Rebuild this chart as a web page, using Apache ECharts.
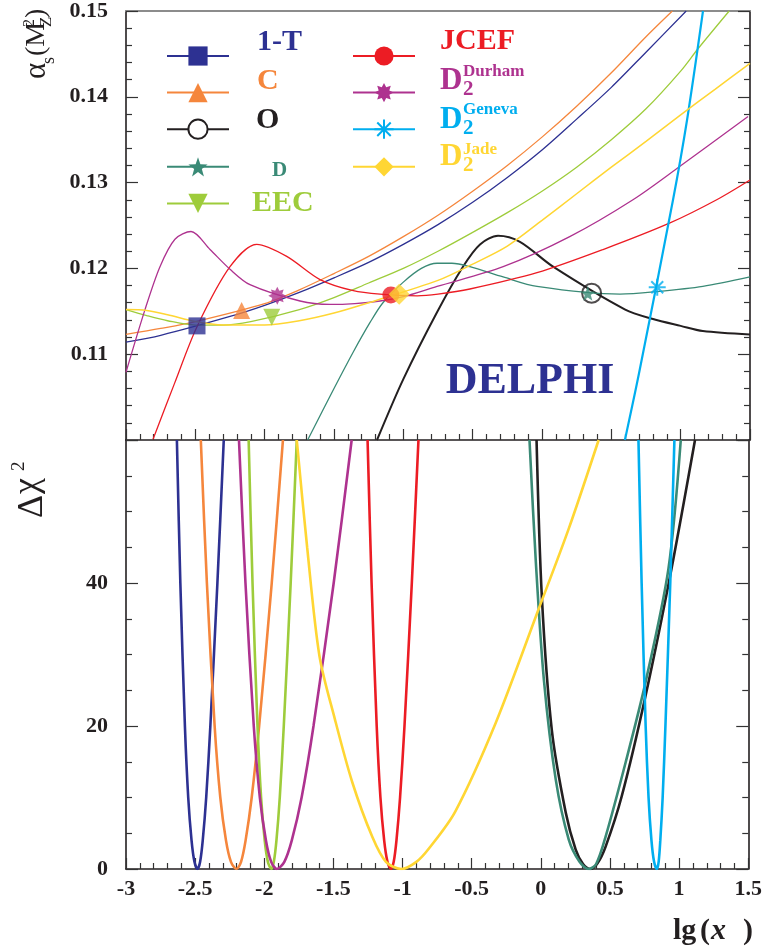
<!DOCTYPE html>
<html><head><meta charset="utf-8">
<script src="https://cdn.jsdelivr.net/npm/echarts@6/dist/echarts.min.js"></script>
<style>html,body{margin:0;padding:0;background:#fff}#c{width:765px;height:952px}</style>
</head><body><div id="c"></div>
<script>
// ---------------- data ----------------
// top panel: alpha_s(M_Z^2) vs lg(x)
const top1T   = [[-3,0.1114],[-2.75,0.1122],[-2.25,0.1144],[-2,0.1157],[-1.75,0.1172],[-1.5,0.1189],[-1.25,0.1207],[-1,0.1228],[-0.75,0.1251],[-0.5,0.1277],[-0.25,0.1306],[0,0.1338],[0.25,0.1374],[0.5,0.1411],[0.75,0.1452],[1.04,0.1500]];
const topC    = [[-3,0.1123],[-2.75,0.1130],[-2.5,0.1138],[-2,0.1159],[-1.75,0.1175],[-1.5,0.1194],[-1.25,0.1214],[-1,0.1237],[-0.75,0.1262],[-0.5,0.1290],[-0.25,0.1320],[0,0.1353],[0.25,0.1389],[0.5,0.1428],[0.75,0.1470],[0.94,0.1500]];
const topO    = [[-1.19,0.1000],[-1.0,0.1071],[-0.757,0.1149],[-0.57,0.1202],[-0.447,0.1228],[-0.317,0.1238],[-0.159,0.1231],[0.08,0.1202],[0.6,0.1152],[0.8,0.1141],[1.0,0.1133],[1.16,0.1127],[1.5,0.1123]];
const topD    = [[-1.69,0.1000],[-1.5,0.1060],[-1.363,0.1102],[-1.24,0.1137],[-1.147,0.1160],[-1.0,0.1184],[-0.87,0.1200],[-0.757,0.1206],[-0.65,0.1206],[-0.52,0.1202],[-0.28,0.1190],[-0.036,0.1179],[0.562,0.1170],[0.83,0.1173],[1.16,0.1179],[1.5,0.1190]];
const topEEC  = [[-3,0.1152],[-2.85,0.1145],[-2.7,0.1139],[-2.5,0.1134],[-2.3,0.1134],[-2.1,0.1138],[-1.75,0.1152],[-1.5,0.1166],[-1.25,0.1183],[-1,0.1200],[-0.75,0.1220],[-0.5,0.1242],[-0.25,0.1265],[0,0.1290],[0.25,0.1318],[0.5,0.1350],[0.75,0.1386],[1,0.1430],[1.125,0.1456],[1.35,0.1500]];
const topJCEF = [[-2.805,0.1001],[-2.65,0.1066],[-2.488,0.1132],[-2.25,0.1202],[-2.057,0.1228],[-1.841,0.1214],[-1.601,0.1187],[-1.361,0.1174],[-1.168,0.1170],[-0.9,0.1168],[-0.75,0.1170],[-0.52,0.1176],[-0.036,0.1195],[0.44,0.1222],[0.923,0.1253],[1.26,0.1280],[1.5,0.1303]];
const topDur  = [[-3,0.1079],[-2.863,0.1152],[-2.755,0.1202],[-2.647,0.1234],[-2.531,0.1243],[-2.394,0.1222],[-2.25,0.1199],[-2.106,0.1181],[-1.745,0.1162],[-1.529,0.1158],[-1.35,0.1159],[-1.168,0.1162],[-1.0,0.1167],[-0.757,0.1179],[-0.28,0.1202],[0.2,0.1237],[0.656,0.1280],[0.995,0.1319],[1.486,0.1377]];
const topGen  = [[0.598,0.1000],[0.7,0.1078],[0.945,0.1280],[1.046,0.1373],[1.161,0.1500]];
const topJade = [[-3,0.1152],[-2.85,0.1151],[-2.7,0.1146],[-2.5,0.1138],[-2.3,0.1134],[-2,0.1134],[-1.75,0.1139],[-1.5,0.1148],[-1.25,0.1160],[-0.75,0.1186],[-0.5,0.1205],[-0.25,0.1226],[0,0.1256],[0.25,0.1287],[0.5,0.1318],[0.75,0.1348],[1,0.1379],[1.25,0.1409],[1.5,0.1439]];

// best-fit points (markers) in the top panel
const mk1T = [-2.488,0.1133], mkC = [-2.166,0.1151], mkO = [0.358,0.1171], mkD = [0.33,0.1171],
      mkEEC = [-1.949,0.1143], mkJCEF = [-1.09,0.1169], mkDur = [-1.909,0.1168],
      mkGen = [0.831,0.1178], mkJade = [-1.03,0.1170];

// bottom panel: delta chi^2 vs lg(x)
const bot1T   = [[-2.632,60],[-2.607,40],[-2.574,20],[-2.550,10],[-2.526,4],[-2.505,1],[-2.483,0],[-2.464,1],[-2.445,4],[-2.420,10],[-2.390,20],[-2.339,40],[-2.293,60]];
const botC    = [[-2.459,60],[-2.415,40],[-2.359,20],[-2.318,10],[-2.277,4],[-2.241,1],[-2.202,0],[-2.168,1],[-2.135,4],[-2.091,10],[-2.037,20],[-1.946,40],[-1.865,60]];
const botO    = [[-0.031,60],[0.007,38.2],[0.079,19.5],[0.18,7.9],[0.252,2.7],[0.305,0.7],[0.358,0],[0.41,0.8],[0.468,3.1],[0.584,10.1],[0.757,24.2],[0.945,42],[1.115,60]];
const botD    = [[-0.082,60],[-0.036,42.9],[0.022,26.5],[0.108,12.5],[0.202,4.1],[0.28,1],[0.346,0],[0.40,0.7],[0.468,4.5],[0.613,14.9],[0.757,26.1],[0.923,42],[1.012,60]];
const botEEC  = [[-2.113,60],[-2.085,40],[-2.049,20],[-2.023,10],[-1.997,4],[-1.974,1],[-1.949,0],[-1.931,1],[-1.912,4],[-1.888,10],[-1.859,20],[-1.809,40],[-1.765,60]];
const botJCEF = [[-1.253,60],[-1.224,40],[-1.187,20],[-1.160,10],[-1.133,4],[-1.109,1],[-1.084,0],[-1.064,1],[-1.044,4],[-1.018,10],[-0.986,20],[-0.933,40],[-0.885,60]];
const botDur  = [[-2.183,60],[-2.136,40],[-2.076,20],[-2.032,10],[-1.988,4],[-1.950,1],[-1.909,0],[-1.855,1],[-1.801,4],[-1.730,10],[-1.644,20],[-1.498,40],[-1.368,60]];
const botGen  = [[0.706,60],[0.729,40],[0.758,20],[0.779,10],[0.800,4],[0.819,1],[0.839,0],[0.852,1],[0.864,4],[0.881,10],[0.901,20],[0.936,40],[0.966,60]];
const botJade = [[-1.765,60],[-1.69,45],[-1.601,29.8],[-1.49,21],[-1.363,12.1],[-1.219,4.5],[-1.12,1],[-1.01,0],[-0.90,1],[-0.808,2.9],[-0.62,8],[-0.325,20.5],[-0.015,36.4],[0.202,47.6],[0.418,60]];

const legendCol1 = ['1-T','C','O','D','EEC'];
const legendCol2 = ['JCEF','D2Durham','D2Geneva','D2Jade'];

// ---------------- styling ----------------
const SERIF = '"Liberation Serif","Times New Roman",serif';
const INK = '#231f20';
const COL = {'1-T':'#2d3192','C':'#f5863c','O':'#231f20','D':'#3a8a76','EEC':'#9ecc3b',
             'JCEF':'#ec1c24','D2Durham':'#ae328f','D2Geneva':'#00aeef','D2Jade':'#ffd633'};
const STAR5 = 'path://M50 0 L61.8 33.8 L97.6 34.5 L69 56.2 L79.4 90.5 L50 70 L20.6 90.5 L31 56.2 L2.4 34.5 L38.2 33.8 Z';
const STAR8 = 'path://M100 50 L77.7 61.5 L85.4 85.4 L61.5 77.7 L50 100 L38.5 77.7 L14.6 85.4 L22.3 61.5 L0 50 L22.3 38.5 L14.6 14.6 L38.5 22.3 L50 0 L61.5 22.3 L85.4 14.6 L77.7 38.5 Z';
const ASTER = 'path://M50 0L50 100M0 50L100 50M15 15L85 85M15 85L85 15';

const obs = [
  {name:'1-T', top:top1T, mk:mk1T, bot:bot1T, sym:'rect', size:17, wTop:1.3},
  {name:'C', top:topC, mk:mkC, bot:botC, sym:'triangle', size:17, wTop:1.3},
  {name:'O', top:topO, mk:mkO, bot:botO, sym:'emptyCircle', mkSym:'circle', size:19, wTop:2.0, open:true},
  {name:'D', top:topD, mk:mkD, bot:botD, sym:STAR5, size:15, wTop:1.3},
  {name:'EEC', top:topEEC, mk:mkEEC, bot:botEEC, sym:'triangle', rot:180, size:17, wTop:1.3},
  {name:'JCEF', top:topJCEF, mk:mkJCEF, bot:botJCEF, sym:'circle', size:17, wTop:1.3},
  {name:'D2Durham', top:topDur, mk:mkDur, bot:botDur, sym:STAR8, size:18, wTop:1.3},
  {name:'D2Geneva', top:topGen, mk:mkGen, bot:botGen, sym:ASTER, size:17, wTop:2.2, stroke:true},
  {name:'D2Jade', top:topJade, mk:mkJade, bot:botJade, sym:'diamond', size:21, wTop:1.5}
];

const series = [];
obs.forEach(o => {
  const c = COL[o.name];
  const ist = o.stroke ? {color:c, borderColor:c, borderWidth:2} : {color:c};
  series.push({type:'line', name:o.name, xAxisIndex:0, yAxisIndex:0, data:o.top, smooth:0.3,
    showSymbol:false, symbol:o.sym, symbolRotate:o.rot||0, lineStyle:{color:c, width:o.wTop},
    itemStyle:ist, z:2, silent:true});
  series.push({type:'line', name:o.name, xAxisIndex:2, yAxisIndex:2, data:o.bot, smooth:0.3,
    showSymbol:false, symbol:'none', lineStyle:{color:c, width:2.6}, itemStyle:{color:c}, z:2, silent:true});
});
obs.forEach(o => {
  const c = COL[o.name];
  let ist = o.stroke ? {color:c, borderColor:c, borderWidth:2} : {color:c};
  if (o.open) ist = {color:'rgba(0,0,0,0)', borderColor:c, borderWidth:2};
  series.push({type:'scatter', xAxisIndex:0, yAxisIndex:0, data:[o.mk], symbol:o.mkSym||o.sym,
    symbolSize:o.size, symbolRotate:o.rot||0, itemStyle:ist, z:5, silent:true});
});

const tickLine = {color:'#333', width:1.2};
function xAx(grid, pos, labels) {
  return {type:'value', gridIndex:grid, position:pos, min:-3, max:1.5, interval:0.5,
    axisLine:{show:true, onZero:false, lineStyle:{color:INK, width:1.6}},
    axisTick:{show:true, inside:true, length:11, lineStyle:tickLine},
    minorTick:{show:true, splitNumber:5, length:6, lineStyle:tickLine},
    axisLabel:{show:labels, margin:9, color:INK, fontFamily:SERIF, fontWeight:'bold', fontSize:22},
    splitLine:{show:false}, minorSplitLine:{show:false}};
}
function yAx(grid, pos, min, max, interval, minorSplit, labels, fmt) {
  return {type:'value', gridIndex:grid, position:pos, min, max, interval,
    axisLine:{show:true, onZero:false, lineStyle:{color:INK, width:1.6}},
    axisTick:{show:true, inside:true, length:12, lineStyle:tickLine},
    minorTick:{show:true, splitNumber:minorSplit, length:6, lineStyle:tickLine},
    axisLabel:{show:labels, margin:18, color:INK, fontFamily:SERIF, fontWeight:'bold', fontSize:22, formatter:fmt},
    splitLine:{show:false}, minorSplitLine:{show:false}};
}

function T(x, y, text, font, fill, align) {
  const a = align || 'left';
  return {type:'text', x, y, silent:true, z:100,
    style:{text, font, fill, textAlign:a, textVerticalAlign:'middle', align:a, verticalAlign:'middle'}};
}
const B = s => 'bold ' + s + 'px ' + SERIF;
const R = s => s + 'px ' + SERIF;

const graphic = [
  T(257, 42, '1-T', B(30), COL['1-T']),
  T(257, 81, 'C', B(30), COL['C']),
  T(256, 120, 'O', B(30), COL['O']),
  T(272, 171, 'D', B(21), COL['D']),
  T(252, 203, 'EEC', B(30), COL['EEC']),
  T(440, 41, 'JCEF', B(30), COL['JCEF']),
  T(440, 81, 'D', B(31), COL['D2Durham']), T(463, 90, '2', B(21), COL['D2Durham']), T(463, 72, 'Durham', B(17), COL['D2Durham']),
  T(440, 120, 'D', B(31), COL['D2Geneva']), T(463, 129, '2', B(21), COL['D2Geneva']), T(463, 110, 'Geneva', B(17), COL['D2Geneva']),
  T(440, 157, 'D', B(31), COL['D2Jade']), T(463, 166, '2', B(21), COL['D2Jade']), T(463, 150, 'Jade', B(17), COL['D2Jade']),
  T(530, 382, 'DELPHI', B(44), '#2d3192', 'center'),
  T(673, 931, 'lg', B(30), INK), T(700, 931, '(', B(30), INK), T(711, 931, 'x', 'italic bold 30px ' + SERIF, INK), T(743, 931, ')', B(30), INK),
  {type:'group', x:39, y:79, rotation:Math.PI/2, children:[
    T(0, -2, 'α', R(31), INK), T(15, 10, 's', R(18), INK), T(23, -2, '(M', R(28), INK),
    T(52, 8, 'Z', R(17), INK), T(52, -9, '2', R(16), INK), T(61, -2, ')', R(28), INK)
  ]},
  {type:'group', x:34, y:518, rotation:Math.PI/2, children:[
    T(0, -1, 'Δ', R(36), INK), T(24, -6, 'χ', R(36), INK), T(47, -15, '2', R(19), INK)
  ]}
];

const legendBase = {orient:'vertical', top:39, itemWidth:62, itemHeight:24, itemGap:15,
  selectedMode:false, formatter:() => '', textStyle:{fontSize:1}, lineStyle:{width:2}};

const option = {
  animation:false,
  backgroundColor:'#fff',
  grid:[{left:126, top:11, width:624, height:429, show:false},
        {left:126, top:440, width:624, height:429, show:false}],
  xAxis:[xAx(0,'bottom',false),
         {type:'value', gridIndex:0, position:'top', min:-3, max:1.5,
          axisLine:{show:true, onZero:false, lineStyle:{color:'#8c8c8c', width:2}},
          axisTick:{show:false}, axisLabel:{show:false}, splitLine:{show:false}},
         xAx(1,'bottom',true)],
  yAxis:[yAx(0,'left',0.10,0.15,0.01,5,true, v => v < 0.105 ? '' : v.toFixed(2)),
         yAx(0,'right',0.10,0.15,0.01,5,false),
         yAx(1,'left',0,60,20,4,true, v => v > 55 ? '' : String(v)),
         yAx(1,'right',0,60,20,4,false)],
  legend:[Object.assign({}, legendBase, {left:161, data:legendCol1}),
          Object.assign({}, legendBase, {left:347, data:legendCol2})],
  series,
  graphic
};
const chart = echarts.init(document.getElementById('c'), null, {renderer:'canvas'});
chart.setOption(option);
</script></body></html>
